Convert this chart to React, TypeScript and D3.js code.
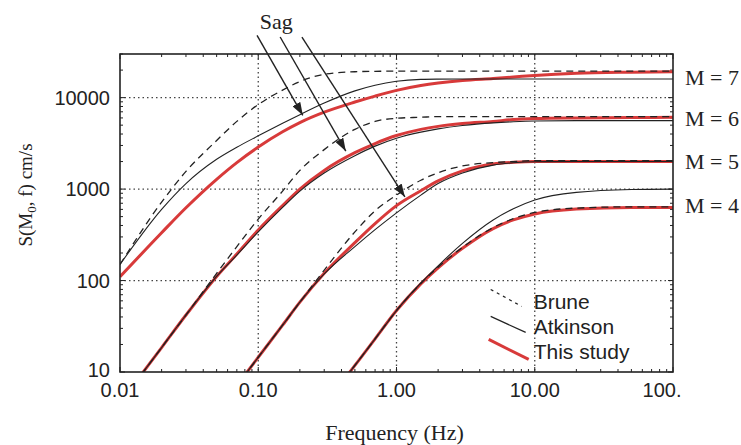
import React from 'react';
import * as d3 from 'd3';

const freqs = [0.01, 0.02, 0.03, 0.05, 0.07, 0.1, 0.15, 0.2, 0.3, 0.5, 0.7, 1, 1.5, 2, 3, 5, 7, 10, 20, 50, 100];

// S(M0, f) in cm/s
const bruneM7 = [150, 720, 1560, 3400, 5500, 8400, 12100, 15000, 18000, 19200, 19400, 19500, 19500, 19500, 19500, 19500, 19500, 19500, 19500, 19500, 19500];
const atkinsonM7 = [150, 600, 1150, 2120, 2870, 3820, 5240, 6510, 8720, 11850, 13650, 15080, 15830, 15950, 16000, 16000, 16000, 16000, 16000, 16000, 16000];
const studyM7 = [110, 333, 625, 1280, 1950, 2880, 4230, 5330, 6930, 8950, 10400, 12000, 13550, 14430, 15400, 16200, 16800, 17500, 18500, 19000, 19200];

const bruneM6 = [4.6, 18.5, 42, 120, 235, 470, 950, 1600, 2700, 4500, 5500, 5950, 6100, 6200, 6200, 6200, 6200, 6200, 6200, 6200, 6200];
const atkinsonM6 = [4.6, 18.5, 42, 111, 190, 340, 630, 950, 1500, 2320, 2950, 3600, 4200, 4550, 4950, 5300, 5450, 5550, 5600, 5600, 5600];
const studyM6 = [4.6, 18.5, 42, 111, 195, 357, 660, 1000, 1600, 2500, 3150, 3850, 4500, 4850, 5200, 5500, 5750, 5900, 6000, 6050, 6100];

const bruneM5 = [0.145, 0.58, 1.3, 3.6, 7.1, 14.5, 32.5, 58, 130, 340, 580, 860, 1250, 1510, 1790, 1950, 2000, 2050, 2050, 2050, 2050];
const atkinsonM5 = [0.145, 0.58, 1.3, 3.6, 7.1, 14.5, 32.5, 58, 118, 235, 360, 550, 860, 1150, 1500, 1830, 1940, 1990, 2000, 2000, 2000];
const studyM5 = [0.145, 0.58, 1.3, 3.6, 7.1, 14.5, 32.5, 58, 120, 260, 420, 660, 960, 1230, 1580, 1880, 1960, 2000, 2000, 2000, 2000];

const bruneM4 = [0.005, 0.019, 0.043, 0.12, 0.23, 0.47, 1.06, 1.9, 4.3, 11.8, 23, 47, 93, 140, 230, 380, 475, 555, 620, 640, 640];
const atkinsonM4 = [0.005, 0.019, 0.043, 0.12, 0.23, 0.47, 1.06, 1.9, 4.3, 11.8, 23, 47, 94, 145, 255, 460, 610, 760, 920, 990, 1000];
const studyM4 = [0.005, 0.019, 0.043, 0.12, 0.23, 0.47, 1.06, 1.9, 4.3, 11.8, 23, 47, 92, 138, 225, 370, 460, 535, 605, 630, 630];

const magnitudes = ['M = 7', 'M = 6', 'M = 5', 'M = 4'];
const magnitudeLabelValues = [16800, 6000, 2000, 660];

const xTicks = [0.01, 0.1, 1, 10, 100];
const xTickLabels = ['0.01', '0.10', '1.00', '10.00', '100.'];
const yTicks = [10, 100, 1000, 10000];
const yTickLabels = ['10', '100', '1000', '10000'];

// "Sag" arrows: [f, S] start and tip
const sagFrom = [[0.098, 48000], [0.144, 46000], [0.207, 46000]];
const sagTo = [[0.21, 6400], [0.43, 2600], [1.15, 820]];

const legendLabels = ['Brune', 'Atkinson', 'This study'];

const W = 741;
const H = 445;
const margin = { top: 54, right: 68, bottom: 73, left: 120 };

const RED = '#d83a3a';
const INK = '#222';
const serif = '"Liberation Serif", "DejaVu Serif", serif';
const sans = '"Liberation Sans", Arial, sans-serif';

export default function App() {
  const x0 = margin.left;
  const x1 = W - margin.right;
  const y0 = H - margin.bottom;
  const y1 = margin.top;

  const x = d3.scaleLog().domain([0.01, 100]).range([x0, x1]);
  const y = d3.scaleLog().domain([10, 30000]).range([y0, y1]);

  const line = d3.line<number>()
    .x((_, i) => x(freqs[i]))
    .y(d => y(d))
    .curve(d3.curveMonotoneX);

  const study = [studyM7, studyM6, studyM5, studyM4];
  const atkinson = [atkinsonM7, atkinsonM6, atkinsonM5, atkinsonM4];
  const brune = [bruneM7, bruneM6, bruneM5, bruneM4];

  const xMinor = x.ticks().filter(t => t >= 0.01 && t <= 100);
  const yMinor = y.ticks().filter(t => t >= 10 && t <= 30000);

  const legX = x(4.8);
  const legY = y(80);

  return (
    <div style={{ position: 'absolute', left: 0, top: 0 }}>
      <svg width={W} height={H} style={{ display: 'block', background: '#fff' }}>
        <defs>
          <clipPath id="plot">
            <rect x={x0} y={y1} width={x1 - x0} height={y0 - y1} />
          </clipPath>
          <marker id="arrow" viewBox="0 0 13 9" refX="13" refY="4.5" markerWidth="13" markerHeight="9"
            markerUnits="userSpaceOnUse" orient="auto">
            <path d="M0,0 L13,4.5 L0,9 Z" fill={INK} />
          </marker>
        </defs>

        {/* grid */}
        <g stroke="#444" strokeWidth={1.3} strokeDasharray="1.5 3">
          {xTicks.slice(1, -1).map(t => (
            <line key={'gx' + t} x1={x(t)} x2={x(t)} y1={y1} y2={y0} />
          ))}
          {yTicks.slice(1).map(t => (
            <line key={'gy' + t} x1={x0} x2={x1} y1={y(t)} y2={y(t)} />
          ))}
        </g>

        {/* minor / major ticks, inside on all four sides */}
        <g stroke={INK} strokeWidth={1}>
          {xMinor.map(t => {
            const len = xTicks.includes(t) ? 5 : 3;
            return (
              <g key={'tx' + t}>
                <line x1={x(t)} x2={x(t)} y1={y0} y2={y0 - len} />
                <line x1={x(t)} x2={x(t)} y1={y1} y2={y1 + len} />
              </g>
            );
          })}
          {yMinor.map(t => {
            const len = yTicks.includes(t) ? 5 : 3;
            return (
              <g key={'ty' + t}>
                <line x1={x0} x2={x0 + len} y1={y(t)} y2={y(t)} />
                <line x1={x1} x2={x1 - len} y1={y(t)} y2={y(t)} />
              </g>
            );
          })}
        </g>

        {/* curves */}
        <g clipPath="url(#plot)" fill="none">
          {study.map((s, i) => (
            <path key={'s' + i} d={line(s) || ''} stroke={RED} strokeWidth={3} />
          ))}
          {atkinson.map((s, i) => (
            <path key={'a' + i} d={line(s) || ''} stroke={INK} strokeWidth={1.1} />
          ))}
          {brune.map((s, i) => (
            <path key={'b' + i} d={line(s) || ''} stroke={INK} strokeWidth={1.3} strokeDasharray="7 5" />
          ))}
        </g>

        {/* frame */}
        <rect x={x0} y={y1} width={x1 - x0} height={y0 - y1} fill="none" stroke={INK} strokeWidth={1.6} />

        {/* tick labels */}
        <g fontFamily={sans} fontSize={20} fill={INK}>
          {xTicks.map((t, i) => (
            <text key={'lx' + t} x={x(t) + (i === xTicks.length - 1 ? -11 : 0)} y={y0 + 25} textAnchor="middle">
              {xTickLabels[i]}
            </text>
          ))}
          {yTicks.map((t, i) => (
            <text key={'ly' + t} x={x0 - 10} y={y(t) + (i === 0 ? -2 : 0)} dy="0.35em" textAnchor="end">
              {yTickLabels[i]}
            </text>
          ))}
        </g>

        {/* axis titles */}
        <text x={(x0 + x1) / 2 - 2} y={H - 5} textAnchor="middle" fontFamily={serif} fontSize={22} fill={INK}>
          Frequency (Hz)
        </text>
        <text transform={`translate(32,${(y0 + y1) / 2 - 18}) rotate(-90)`} textAnchor="middle"
          fontFamily={serif} fontSize={19} fill={INK}>
          S(M<tspan fontSize={13} dy={4}>0</tspan><tspan dy={-4}>, f) cm/s</tspan>
        </text>

        {/* magnitude labels */}
        <g fontFamily={serif} fontSize={22} fill={INK}>
          {magnitudes.map((m, i) => (
            <text key={m} x={x1 + 12} y={y(magnitudeLabelValues[i])} dy="0.35em">{m}</text>
          ))}
        </g>

        {/* Sag annotation */}
        <g stroke={INK} strokeWidth={1.4}>
          {sagFrom.map((p, i) => (
            <line key={'sag' + i} x1={x(p[0])} y1={y(p[1])} x2={x(sagTo[i][0])} y2={y(sagTo[i][1])}
              markerEnd="url(#arrow)" />
          ))}
        </g>
        <text x={x(sagFrom[1][0]) - 4} y={y(sagFrom[1][1]) - 8} textAnchor="middle"
          fontFamily={serif} fontSize={22} fill={INK}>
          Sag
        </text>

        {/* legend */}
        <g transform={`translate(${legX},${legY})`}>
          <line x1={0} y1={0} x2={31} y2={17} stroke={INK} strokeWidth={1.2} strokeDasharray="3 4" />
          <line x1={0} y1={27} x2={35} y2={43} stroke={INK} strokeWidth={1.2} />
          <line x1={-2} y1={50} x2={38} y2={70} stroke={RED} strokeWidth={3} />
          <g fontFamily={sans} fontSize={21} fill={INK}>
            {legendLabels.map((l, i) => (
              <text key={l} x={43} y={12 + i * 25} dy="0.35em">{l}</text>
            ))}
          </g>
        </g>
      </svg>
    </div>
  );
}
